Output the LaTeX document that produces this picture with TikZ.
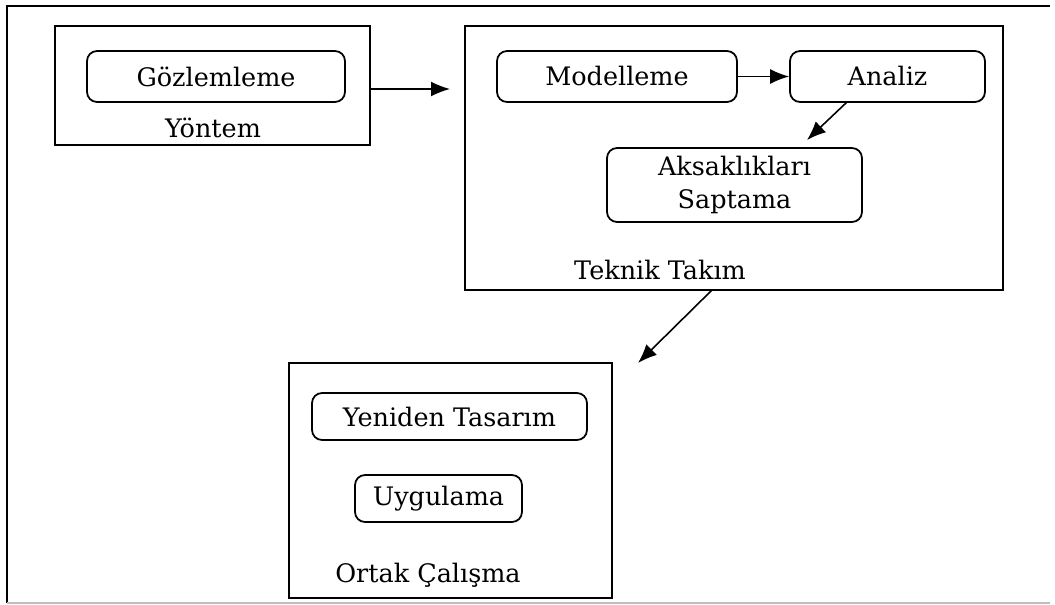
\documentclass[tikz,border=0pt]{standalone}
\usepackage{fontspec}
\setmainfont{DejaVu Serif}
\usepackage{tikz}
\usetikzlibrary{arrows.meta, positioning, calc}

\begin{document}
\begin{tikzpicture}[x=0.02cm, y=-0.02cm,
    every node/.style={font=\fontsize{14.5}{17}\selectfont},
    group/.style={draw, line width=1.1pt, inner sep=0pt},
    task/.style={draw, line width=1pt, rounded corners=0.2cm, inner sep=0pt, align=center},
    flow/.style={line width=0.9pt, -{Latex[length=3.8mm, width=3mm]}}
]
    \useasboundingbox (0,0) rectangle (1055,605);
    % outer frame (no right side)
    \draw[line width=1.2pt] (1050,6) -- (7,6) -- (7,603);
    \draw[line width=1.2pt, black!25] (7,603) -- (1050,603);

    % Yontem
    \node[group, minimum width=6.3cm, minimum height=2.38cm] (yontem) at (212.5,85.5) {};
    \node[task, minimum width=5.16cm, minimum height=1.02cm] (gozlem) at (216,76.5) {Gözlemleme};
    \node (yontemlbl) at (213,128) {Yöntem};

    % Teknik Takim
    \node[group, minimum width=10.76cm, minimum height=5.28cm] (teknik) at (734,158) {};
    \node[task, minimum width=4.8cm, minimum height=1.02cm] (model) at (617,76.5) {Modelleme};
    \node[task, minimum width=3.9cm, minimum height=1.02cm] (analiz) at (887.5,76.5) {Analiz};
    \node[task, minimum width=5.1cm, minimum height=1.48cm] (aksak) at (734.5,185) {Aksaklıkları\\[2pt]Saptama};
    \node (teknlbl) at (660,270) {Teknik Takım};

    % Ortak Calisma
    \node[group, minimum width=6.46cm, minimum height=4.7cm] (ortak) at (450.5,480.5) {};
    \node[task, minimum width=5.5cm, minimum height=0.94cm] (yeniden) at (449.5,416.5) {Yeniden Tasarım};
    \node[task, minimum width=3.34cm, minimum height=0.94cm] (uygula) at (438.5,498.5) {Uygulama};
    \node (ortaklbl) at (428,575) {Ortak Çalışma};

    % connectors
    \coordinate (a1) at (450,89);
    \coordinate (a2) at (807,140);
    \coordinate (a3) at (638,363);
    \draw[flow] (yontem.east |- a1) -- (a1);
    \draw[flow] (model.east) -- (analiz.west);
    \draw[flow] (847,102) -- (a2);
    \draw[flow] (712,290) -- (a3);
\end{tikzpicture}
\end{document}
